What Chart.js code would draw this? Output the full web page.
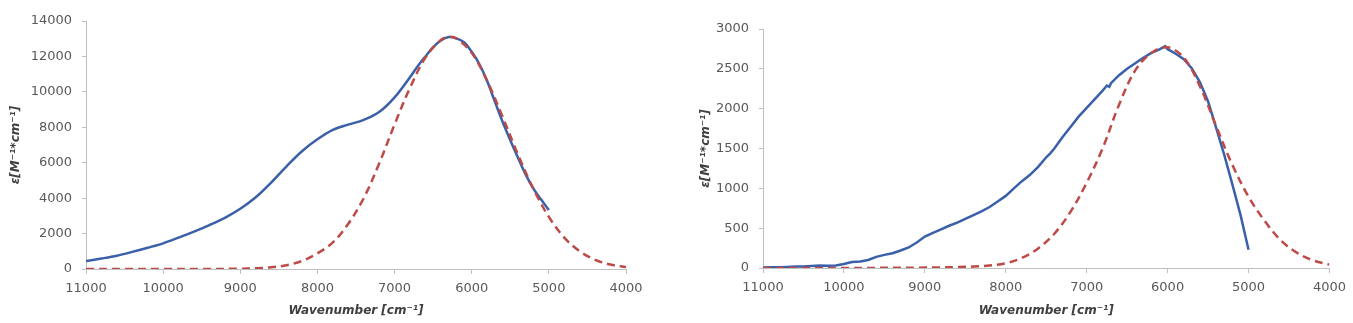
<!DOCTYPE html>
<html>
<head>
<meta charset="utf-8">
<script src="https://cdn.jsdelivr.net/npm/chart.js@4/dist/chart.umd.min.js"></script>
<style>
  html, body { margin: 0; padding: 0; background: #ffffff; }
  #wrap { position: relative; width: 1353px; height: 323px; }
  canvas { position: absolute; top: 0; }
  #c1 { left: 0; }
  #c2 { left: 676px; }
</style>
</head>
<body>
<div id="wrap">
  <canvas id="c1" width="676" height="323"></canvas>
  <canvas id="c2" width="677" height="323"></canvas>
</div>
<script>
// ---------- Data: left panel ----------
const leftBlueX = [11000,10800,10600,10400,10200,10000,9800,9600,9400,9200,9000,8800,8600,8400,8200,8000,7800,7600,7400,7200,7000,6800,6700,6600,6500,6400,6300,6200,6100,6000,5900,5800,5700,5600,5500,5400,5300,5200,5100,5000];
const leftBlueY = [450,590,750,965,1200,1450,1770,2110,2480,2890,3400,4050,4880,5800,6650,7320,7850,8150,8420,8860,9690,10830,11450,12000,12520,12900,13100,13020,12800,12260,11560,10610,9450,8310,7270,6280,5330,4540,3920,3330];

const leftRedX = [11000,10500,10000,9500,9000,8800,8600,8400,8200,8000,7800,7600,7400,7200,7000,6800,6600,6400,6300,6200,6000,5800,5600,5400,5200,5000,4800,4600,4400,4200,4000];
const leftRedY = [0,0,0,2,15,40,96,216,452,880,1500,2550,4000,5950,8160,10230,11930,12930,13100,13020,12200,10620,8590,6460,4520,2940,1770,1000,520,250,110];

// ---------- Data: right panel ----------
const rightBlueX = [11000,10900,10800,10700,10600,10500,10400,10300,10200,10100,10000,9900,9800,9700,9600,9500,9400,9300,9200,9100,9000,8900,8800,8700,8600,8500,8400,8300,8200,8100,8000,7900,7800,7700,7600,7500,7450,7400,7300,7200,7100,7000,6900,6800,6750,6720,6700,6600,6500,6400,6300,6200,6100,6030,6000,5950,5900,5800,5700,5600,5500,5400,5300,5200,5100,5000];
const rightBlueY = [5,10,8,12,18,20,26,30,28,32,50,75,82,100,140,165,185,220,258,320,395,440,485,530,570,618,665,710,765,835,905,1000,1090,1170,1270,1390,1440,1500,1640,1770,1900,2010,2120,2230,2290,2275,2320,2420,2500,2570,2640,2700,2745,2785,2745,2720,2690,2620,2505,2330,2090,1760,1420,1050,670,230];

const rightRedX = [11000,10000,9000,8800,8600,8400,8200,8000,7800,7600,7400,7200,7000,6800,6600,6400,6200,6000,5800,5600,5400,5200,5000,4800,4600,4400,4200,4000];
const rightRedY = [0,0,5,8,12,18,30,60,127,245,430,705,1070,1510,2050,2480,2700,2770,2640,2280,1780,1295,895,590,345,190,95,42];

// ---------- Axis text ----------
const xTickValues = [11000,10000,9000,8000,7000,6000,5000,4000];
const leftYTicks = [0,2000,4000,6000,8000,10000,12000,14000];
const rightYTicks = [0,500,1000,1500,2000,2500,3000];
const xTitle = 'Wavenumber [cm\u207B\u00B9]';
const yTitle = '\u03B5[M\u207B\u00B9*cm\u207B\u00B9]';

const BLUE = '#3a60a9';
const RED = '#bd4a47';
const AXIS = '#bfbfbf';
const TEXT = '#595959';
const TITLE = '#404040';

function pts(xs, ys) { return xs.map((x, i) => ({ x: x, y: ys[i] })); }

function makeChart(id, cfg) {
  return new Chart(document.getElementById(id), {
    type: 'line',
    data: {
      datasets: [
        { label: 'fit', data: pts(cfg.redX, cfg.redY), borderColor: RED, borderWidth: 2.5,
          borderDash: [8, 5], pointRadius: 0, tension: 0.35, order: 0, fill: false },
        { label: 'exp', data: pts(cfg.blueX, cfg.blueY), borderColor: BLUE, borderWidth: 2.5,
          pointRadius: 0, tension: cfg.blueTension, order: 1, fill: false }
      ]
    },
    options: {
      responsive: false,
      animation: false,
      devicePixelRatio: 1,
      layout: { padding: { left: 0, right: cfg.padRight, top: cfg.padTop, bottom: 0 } },
      plugins: { legend: { display: false }, tooltip: { enabled: false } },
      scales: {
        x: {
          type: 'linear', reverse: true, min: 4000, max: 11000,
          afterBuildTicks: (s) => { s.ticks = xTickValues.map(v => ({ value: v })); },
          afterFit: (s) => { s.height = cfg.xHeight; },
          grid: { display: true, drawOnChartArea: false, drawTicks: true, tickLength: 5, color: AXIS },
          border: { display: true, color: AXIS, width: 1 },
          ticks: { autoSkip: false, maxRotation: 0, padding: 7, color: TEXT,
                   font: { family: 'DejaVu Sans', size: 13 },
                   callback: (v) => String(v) },
          title: { display: true, text: xTitle, color: TITLE,
                   font: { family: 'DejaVu Sans', size: 12, weight: 'bold', style: 'italic' },
                   padding: { top: 0, bottom: 5 } }
        },
        y: {
          type: 'linear', min: 0, max: cfg.yMax,
          afterBuildTicks: (s) => { s.ticks = cfg.yTicks.map(v => ({ value: v })); },
          afterFit: (s) => { s.width = cfg.yWidth; },
          grid: { display: true, drawOnChartArea: false, drawTicks: true, tickLength: 4, color: AXIS },
          border: { display: true, color: AXIS, width: 1 },
          ticks: { autoSkip: false, padding: 10, color: TEXT,
                   font: { family: 'DejaVu Sans', size: 13 },
                   callback: (v) => String(v) },
          title: { display: true, text: yTitle, color: TITLE,
                   font: { family: 'DejaVu Sans', size: 12, weight: 'bold', style: 'italic' },
                   padding: { top: cfg.yTitlePad, bottom: 0 } }
        }
      }
    }
  });
}

makeChart('c1', {
  blueX: leftBlueX, blueY: leftBlueY, redX: leftRedX, redY: leftRedY,
  yMax: 14000, yTicks: leftYTicks, padRight: 50, padTop: 21,
  xHeight: 54, yWidth: 86, yTitlePad: 9, blueTension: 0.35
});

makeChart('c2', {
  blueX: rightBlueX, blueY: rightBlueY, redX: rightRedX, redY: rightRedY,
  yMax: 3000, yTicks: rightYTicks, padRight: 23.5, padTop: 29,
  xHeight: 55, yWidth: 87, yTitlePad: 23, blueTension: 0
});
</script>
</body>
</html>
